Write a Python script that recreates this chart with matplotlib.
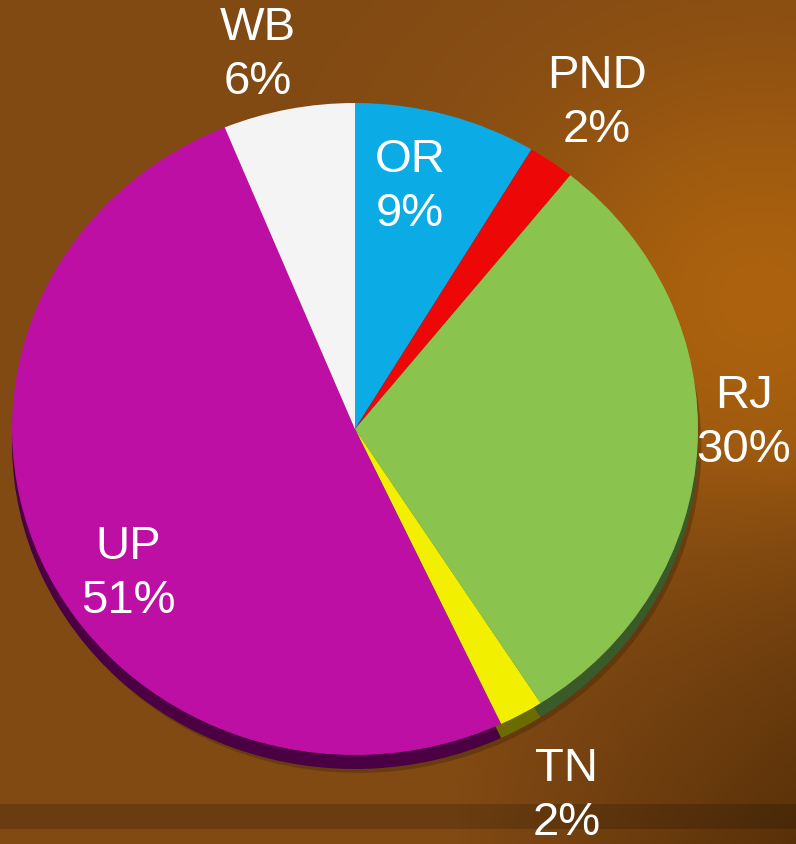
import numpy as np
import matplotlib
matplotlib.use("Agg")
import matplotlib.pyplot as plt

# ---- data ----
labels = ["OR", "PND", "RJ", "TN", "UP", "WB"]
values = [8.6, 2.2, 30.1, 2.1, 50.8, 6.2]
colors = ["#0BABE6", "#EE0707", "#8BC34F", "#F2F000", "#BD0FA3", "#F4F4F4"]
rim_colors = ["#06597A", "#7A0404", "#3A5A2A", "#6B6B00", "#4A0042", "#8A8A8A"]

W, H = 796, 845
fig = plt.figure(figsize=(W / 100, H / 100), dpi=100)

# background gradient
bg_ax = fig.add_axes([0, 0, 1, 1])
yy, xx = np.mgrid[0:H, 0:W]
base = np.array([130, 74, 20], float) / 255
hi = np.array([172, 98, 14], float) / 255
dark = np.array([88, 48, 8], float) / 255
d = np.exp(-(((xx - 760) / 260.0) ** 2 + ((yy - 300) / 240.0) ** 2))
dd = np.clip((xx - 450) / 346.0, 0, 1) * np.clip((yy - 450) / 395.0, 0, 1)
img = base[None, None, :] * (1 - d[..., None]) + hi[None, None, :] * d[..., None]
img = img * (1 - dd[..., None]) + dark[None, None, :] * dd[..., None]
stripe = (yy >= 805) & (yy < 830)
img[stripe] = img[stripe] * 0.82
bg_ax.imshow(img, extent=[0, W, H, 0], aspect="auto")
bg_ax.set_xlim(0, W)
bg_ax.set_ylim(H, 0)
bg_ax.axis("off")

# pie axes mapped so that unit circle -> ellipse in pixels
cx, cy, rx, ry = 355, 430, 343, 326
ax = fig.add_axes([0, 0, 1, 1])
ax.patch.set_alpha(0)

# soft shadow + rim
shift = 14 / ry
ax.pie(values, colors=["#3a2205"] * len(values), startangle=90, counterclock=False,
       center=(0.01, -shift - 0.012), radius=1.0,
       wedgeprops=dict(linewidth=0, alpha=0.35))
ax.pie(values, colors=rim_colors, startangle=90, counterclock=False,
       center=(0, -shift), radius=1.0, wedgeprops=dict(linewidth=0))
wedges, _ = ax.pie(values, colors=colors, startangle=90, counterclock=False,
                   center=(0, 0), radius=1.0, wedgeprops=dict(linewidth=0))

ax.set_aspect("auto")
ax.set_xlim((0 - cx) / rx, (W - cx) / rx)
ax.set_ylim(-(H - cy) / ry, cy / ry)
ax.axis("off")

# labels (pixel positions converted to data)
label_pos = {
    "OR": (410, 187),
    "PND": (597, 103),
    "RJ": (744, 423),
    "TN": (567, 796),
    "UP": (128, 574),
    "WB": (258, 55),
}
for lab, val in zip(labels, values):
    px, py = label_pos[lab]
    ax.text((px - cx) / rx, (cy - py) / ry, f"{lab}\n{round(val)}%", color="white",
            fontsize=34, family="Liberation Sans", ha="center", va="center",
            linespacing=1.27)

fig.savefig("out.png", dpi=100)
